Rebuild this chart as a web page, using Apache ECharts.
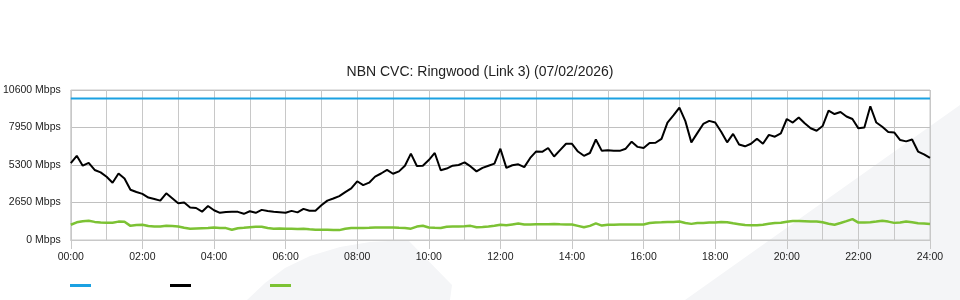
<!DOCTYPE html>
<html><head><meta charset="utf-8">
<script src="https://cdn.jsdelivr.net/npm/echarts@6/dist/echarts.min.js"></script>
<style>html,body{margin:0;padding:0;background:#fff}#c{width:960px;height:300px}</style>
</head><body><div id="c"></div>
<script>
const chartTitle = 'NBN CVC: Ringwood (Link 3) (07/02/2026)';
const seriesNames = ['Capacity', 'Download', 'Upload'];
const yTicks = [0, 2650, 5300, 7950, 10600];
// 10-minute samples 00:00 .. 24:00
const capacity = [10000, 10000]; // at 00:00 and 24:00
const download = [
  5440,5950,5250,5450,4950,4780,4470,4050,4700,4350,
  3550,3390,3260,3000,2900,2780,3300,2950,2600,2650,
  2300,2260,2000,2400,2100,1920,1980,1990,1990,1850,
  2030,1920,2130,2050,1990,1960,1930,2060,1950,2200,
  2070,2070,2450,2780,2930,3100,3380,3650,4150,3880,
  4050,4480,4700,4950,4680,4850,5250,6100,5230,5250,
  5650,6150,4930,5050,5250,5300,5480,5200,4850,5100,
  5250,5400,6450,5100,5280,5350,5150,5800,6260,6230,
  6500,5900,6350,6800,6800,6250,5950,6150,7100,6300,
  6350,6300,6300,6450,6950,6580,6500,6850,6870,7150,
  8300,8800,9350,8400,6900,7550,8200,8420,8300,7650,
  6900,7500,6750,6620,6800,7150,6800,7430,7300,7540,
  8550,8300,8660,8250,7900,7720,8050,9150,8900,9050,
  8730,8550,7890,7950,9450,8300,8000,7630,7600,7060,
  6970,7100,6250,6050,5800
];
const upload = [
  1080,1250,1330,1360,1280,1230,1220,1220,1300,1290,
  1000,1060,1080,990,960,960,1010,990,960,860,
  800,820,830,840,880,850,840,720,830,860,
  900,940,930,850,800,820,790,800,780,800,
  760,730,730,720,700,700,800,850,850,850,
  860,880,890,880,880,860,850,800,950,1010,
  880,860,850,940,950,960,970,1000,900,920,
  950,1000,1080,1040,1100,1160,1090,1100,1110,1120,
  1120,1130,1110,1100,1100,1000,900,1000,1170,1020,
  1080,1080,1090,1090,1090,1090,1100,1200,1240,1250,
  1270,1280,1310,1200,1140,1200,1210,1230,1230,1270,
  1260,1180,1120,1060,1040,1040,1080,1150,1200,1220,
  1290,1340,1350,1330,1300,1310,1250,1150,1080,1200,
  1330,1480,1230,1230,1260,1300,1360,1300,1210,1240,
  1300,1250,1190,1160,1130
];
const times = [];
for (let m = 0; m <= 1440; m += 10) {
  const h = Math.floor(m / 60), mm = m % 60;
  times.push(String(h).padStart(2, '0') + ':' + String(mm).padStart(2, '0'));
}
const colors = ['#1ba1e2', '#000000', '#7cc234'];
const font = '"Liberation Sans", Arial, sans-serif';

const chart = echarts.init(document.getElementById('c'), null, {renderer: 'canvas'});
chart.setOption({
  animation: false,
  color: colors,
  title: {
    text: chartTitle, left: 'center', top: 60,
    textStyle: {fontSize: 14, fontWeight: 'normal', color: '#222', fontFamily: font}
  },
  graphic: [
    {type: 'polygon', z: -10, shape: {points: [[685, 300], [960, 105], [960, 300]]},
     style: {fill: '#f4f5f7'}},
    {type: 'polygon', z: -10,
     shape: {points: [[247, 300], [265, 283], [285, 268], [310, 256], [340, 247], [370, 242], [408, 240], [452, 285], [450, 300]]},
     style: {fill: '#f4f5f7'}}
  ],
  legend: {
    left: 70, top: 284, padding: 0, icon: 'rect', itemWidth: 21, itemHeight: 3, itemGap: 79,
    formatter: () => '', data: seriesNames,
    textStyle: {fontSize: 1}
  },
  grid: {left: 70, right: 30, top: 90, bottom: 60, show: true, borderColor: '#c8c8c8', borderWidth: 1},
  xAxis: {
    type: 'category', data: times, boundaryGap: false,
    axisLine: {lineStyle: {color: '#c8c8c8'}},
    axisTick: {show: true, interval: 11, length: 9, lineStyle: {color: '#c8c8c8'}},
    axisLabel: {interval: 11, color: '#222', fontSize: 10.5, fontFamily: font, margin: 12},
    splitLine: {show: true, interval: 5, lineStyle: {color: '#c8c8c8', width: 1}}
  },
  yAxis: {
    type: 'value', min: yTicks[0], max: yTicks[yTicks.length - 1], interval: 2650,
    axisLine: {show: false}, axisTick: {show: false},
    axisLabel: {formatter: v => v + ' Mbps', color: '#222', fontSize: 10.5, fontFamily: font, margin: 10,
                padding: [0, 0, 3, 0]},
    splitLine: {lineStyle: {color: '#c0c0c0', width: 1}}
  },
  series: [
    {name: seriesNames[0], type: 'line', data: [[times[0], capacity[0]], [times[times.length - 1], capacity[1]]],
     showSymbol: false, lineStyle: {width: 2, color: colors[0]}, z: 3},
    {name: seriesNames[1], type: 'line', data: download, showSymbol: false,
     lineStyle: {width: 2, color: colors[1]}, z: 4},
    {name: seriesNames[2], type: 'line', data: upload, showSymbol: false,
     lineStyle: {width: 2.5, color: colors[2]}, z: 4}
  ]
});
</script></body></html>
